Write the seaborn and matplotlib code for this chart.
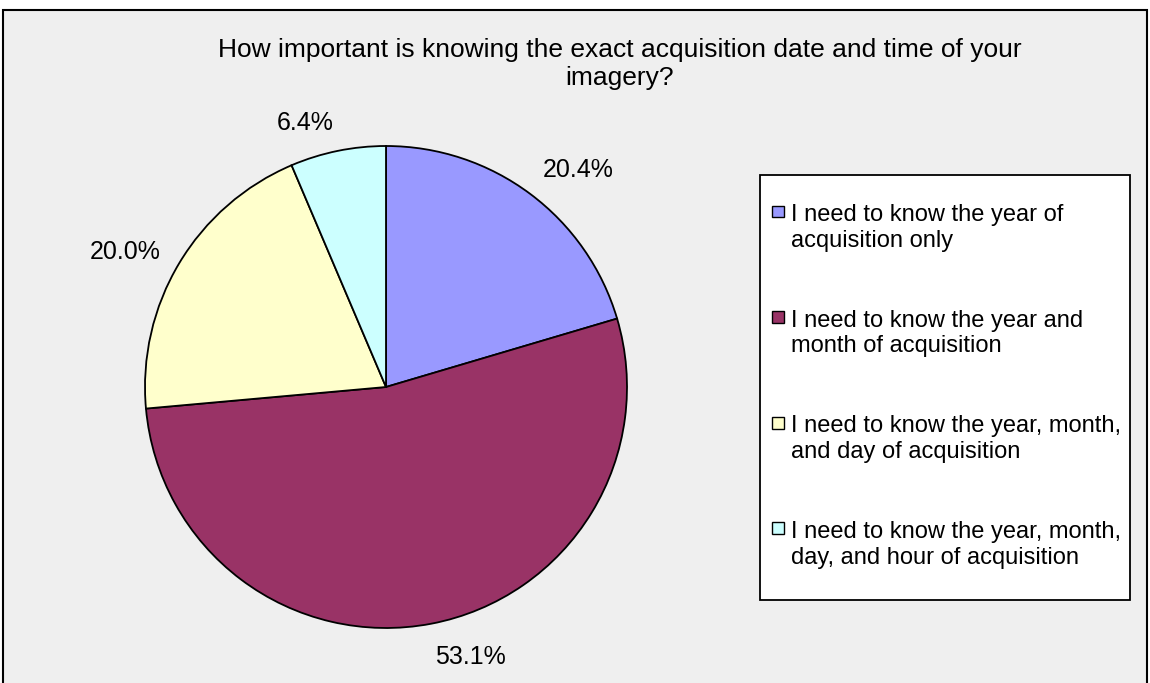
import numpy as np
import matplotlib
matplotlib.use("Agg")
import matplotlib.pyplot as plt
import seaborn as sns
from matplotlib.patches import Rectangle
from matplotlib.legend_handler import HandlerPatch

# data
categories = [
    "I need to know the year of\nacquisition only",
    "I need to know the year and\nmonth of acquisition",
    "I need to know the year, month,\nand day of acquisition",
    "I need to know the year, month,\nday, and hour of acquisition",
]
shares = [20.4, 53.1, 20.0, 6.4]
colors = ["#9999FF", "#993366", "#FFFFCC", "#CCFFFF"]
title = "How important is knowing the exact acquisition date and time of your\nimagery?"

sns.set_theme(style="white")
plt.rcParams["font.family"] = ["Liberation Sans", "DejaVu Sans"]
plt.rcParams["text.color"] = "black"

fig = plt.figure(figsize=(11.5, 6.83), dpi=100)
fig.patch.set_facecolor("white")

# grey chart area with black frame
fig.patches.append(Rectangle((3 / 1150, -0.01), 1144 / 1150, (683 - 10) / 683 + 0.01,
                             transform=fig.transFigure, facecolor="#EFEFEF",
                             edgecolor="black", lw=1.5, zorder=-5))

ax = fig.add_axes([145 / 1150, 55 / 683, 482 / 1150, 482 / 683])
wedges, _ = ax.pie(shares, colors=colors, startangle=90, counterclock=False,
                   wedgeprops=dict(edgecolor="black", linewidth=1.3))
ax.set_xlim(-1, 1)
ax.set_ylim(-1, 1)
ax.set_aspect("equal")
ax.axis("off")

# percent labels outside the pie, anchored by a corner like the original
label_align = [("left", "baseline"), ("left", "top"), ("right", "center"), ("right", "baseline")]
for w, s, (ha, va) in zip(wedges, shares, label_align):
    ang = np.deg2rad((w.theta1 + w.theta2) / 2)
    ax.text(1.09 * np.cos(ang), 1.09 * np.sin(ang), f"{s:.1f}%", ha=ha, va=va,
            fontsize=18)

fig.text(620 / 1150, 1 - 64 / 683, title, ha="center", va="center", fontsize=19,
         linespacing=1.2)


def top_square(legend, orig_handle, xdescent, ydescent, width, height, fontsize):
    s = 0.5 * fontsize
    return Rectangle((-xdescent, -ydescent + 0.8 * fontsize), s, s)


# legend box
fig.patches.append(Rectangle((760 / 1150, 1 - 600 / 683), 370 / 1150, 425 / 683,
                             transform=fig.transFigure, facecolor="white",
                             edgecolor="black", lw=1.3, zorder=-1))

leg = fig.legend(wedges, categories, loc="upper left",
                 bbox_to_anchor=(772 / 1150, 1 - 204 / 683),
                 fontsize=17, frameon=False, handlelength=0.5, handleheight=0.7,
                 handletextpad=0.3, labelspacing=2.45, borderpad=0,
                 borderaxespad=0,
                 handler_map={w: HandlerPatch(patch_func=top_square) for w in wedges})
for t in leg.get_texts():
    t.set_linespacing(1.22)
for h in leg.legend_handles:
    h.set_linewidth(1.0)

fig.savefig("out.png", dpi=100)
